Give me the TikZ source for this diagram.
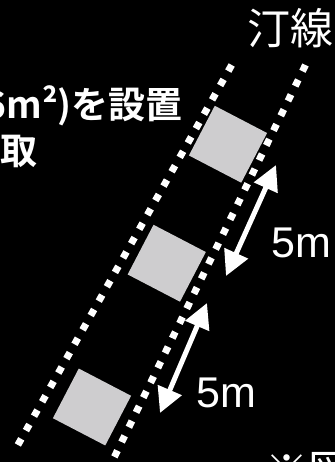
\documentclass[tikz,border=0pt]{standalone}
\usepackage{fontspec}
\setmainfont{Liberation Sans}
\newfontfamily\cjk{Noto Sans CJK JP}
\newfontfamily\cjkb{Noto Sans CJK JP Bold}
\usetikzlibrary{arrows.meta}
\definecolor{sqgray}{RGB}{206,205,207}
\begin{document}
\begin{tikzpicture}[x=1pt,y=-1pt,
  dotline/.style={white,line width=7pt,dash pattern=on 7pt off 9.5pt},
  tile/.style={fill=sqgray,draw=none,minimum width=59pt,minimum height=56pt,rotate=-27.5,inner sep=0pt},
  dim/.style={white,line width=5pt,{Triangle[length=25pt,width=25pt]}-{Triangle[length=25pt,width=25pt]}},
  lbl/.style={white,inner sep=0pt},
  big/.style={font=\cjk\fontsize{43}{50}\selectfont},
  bold/.style={font=\cjkb\fontsize{37}{44}\selectfont},
  num/.style={font=\fontsize{43}{50}\selectfont}]
\fill[black] (0,0) rectangle (335,462);
\useasboundingbox (0,0) rectangle (335,462);
% shore lines
\coordinate (la) at (231.7,65);
\coordinate (lb) at (15,450);
\coordinate (ra) at (305.5,65);
\coordinate (rb) at (108,470);
\draw[dotline] (la) -- (lb);
\draw[dotline] (ra) -- (rb);
% tiles
\node[tile] (s1) at (228,144.25) {};
\node[tile] (s2) at (166.75,263.25) {};
\node[tile] (s3) at (92,407) {};
% dimension arrows
\coordinate (a1t) at (276,165);
\coordinate (a1b) at (226,276);
\coordinate (a2t) at (207,303);
\coordinate (a2b) at (160,413);
\draw[dim] (a1t) -- (a1b);
\draw[dim] (a2t) -- (a2b);
% labels
\node[lbl,big] (shore) at (290,28) {汀線};
\node[lbl,bold,anchor=east] (t1) at (183,106) {6m²)を設置};
\node[lbl,bold,anchor=east] (t2) at (38,151) {取};
\node[lbl,num] (d1) at (301,243) {5m};
\node[lbl,num] (d2) at (226.5,393) {5m};
\node[lbl,big,anchor=north west] (note) at (265,452) {※図};
\end{tikzpicture}
\end{document}
